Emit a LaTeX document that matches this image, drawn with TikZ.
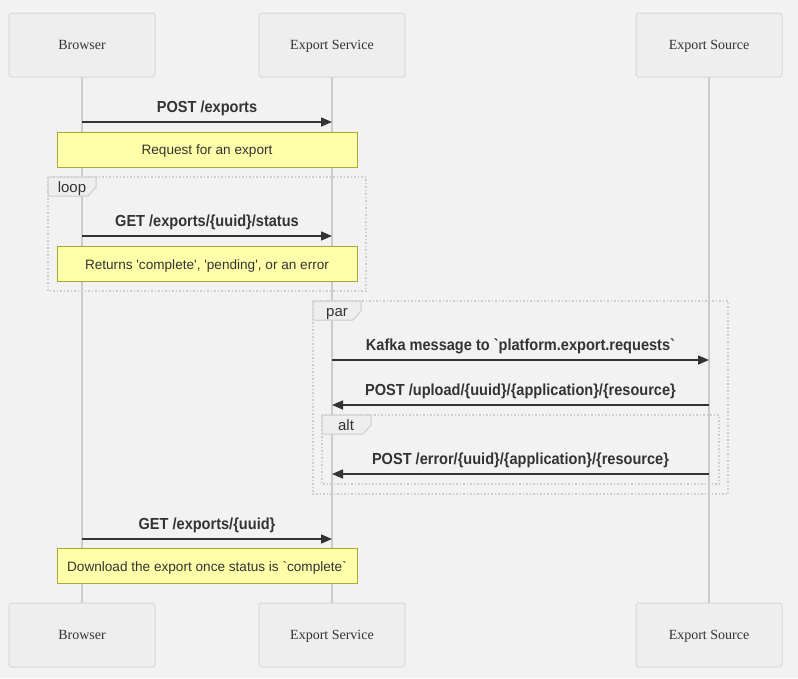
\documentclass[tikz,border=0pt]{standalone}
\usepackage{fontspec}
\setmainfont{Liberation Serif}
\newfontfamily\msgfont[FakeStretch=0.91]{Liberation Sans}
\newfontfamily\notefont{Liberation Sans}
\usetikzlibrary{arrows.meta}
\definecolor{bgc}{HTML}{F2F2F2}
\definecolor{actfill}{HTML}{EEEEEE}
\definecolor{actline}{HTML}{D8D8D8}
\definecolor{lifec}{HTML}{CCCCCC}
\definecolor{txt}{HTML}{333333}
\definecolor{notefill}{HTML}{FFFFAA}
\definecolor{noteline}{HTML}{AAAA33}
\definecolor{boxline}{HTML}{CCCCCC}
\tikzset{
  actor/.style={draw=actline, fill=actfill, rounded corners=3pt, line width=1pt, minimum width=146pt, minimum height=64pt, inner sep=0pt, text height=9.6pt, text depth=0pt, font=\fontsize{14}{16}\selectfont, text=txt},
  life/.style={draw=lifec, line width=1.5pt},
  msg/.style={draw=txt, line width=1.5pt, -{Triangle[length=11pt,width=9pt]}},
  msglabel/.style={font=\msgfont\bfseries\fontsize{16}{18}\selectfont, text=txt, inner sep=0pt, anchor=base},
  notebox/.style={draw=noteline, fill=notefill, line width=1pt, minimum width=300pt, minimum height=35pt, inner sep=0pt, text height=10pt, text depth=0pt, font=\notefont\fontsize{13.6}{16}\selectfont, text=txt},
  frame/.style={draw=boxline, line width=1.5pt, dotted},
  tab/.style={draw=boxline, fill=actfill, line width=1pt},
  tablabel/.style={font=\notefont\fontsize{15}{17}\selectfont, text=txt, inner sep=0pt, text height=10.5pt, text depth=0pt}
}
\begin{document}
\begin{tikzpicture}[x=1pt,y=-1pt]
\fill[bgc] (0,0) rectangle (798,678);
\useasboundingbox (0,0) rectangle (798,678);
% lifelines
\coordinate (bT) at (82,77); \coordinate (bB) at (82,603);
\coordinate (sT) at (332,77); \coordinate (sB) at (332,603);
\coordinate (xT) at (709,77); \coordinate (xB) at (709,603);
\draw[life] (bT) -- (bB);
\draw[life] (sT) -- (sB);
\draw[life] (xT) -- (xB);
% actors
\node[actor] (b1) at (82,45) {Browser};
\node[actor] (s1) at (332,45) {Export Service};
\node[actor] (x1) at (709,45) {Export Source};
\node[actor] (b2) at (82,635) {Browser};
\node[actor] (s2) at (332,635) {Export Service};
\node[actor] (x2) at (709,635) {Export Source};
% frames
\draw[frame] (48,177) rectangle (366,291);
\draw[tab] (48,177) -- (96,177) -- (96,187) -- (88,196) -- (48,196) -- cycle;
\node[tablabel] (loopl) at (72,187) {loop};
\draw[frame] (313,301) rectangle (728,494);
\draw[tab] (313,301) -- (361,301) -- (361,311) -- (353,320) -- (313,320) -- cycle;
\node[tablabel] (parl) at (337,311) {par};
\draw[frame] (322,415) rectangle (719,484);
\draw[tab] (322,415) -- (371,415) -- (371,425) -- (363,434) -- (322,434) -- cycle;
\node[tablabel] (altl) at (346,425) {alt};
% messages
\coordinate (m1a) at (82,122); \coordinate (m1b) at (332,122);
\draw[msg] (m1a) -- (m1b);
\node[msglabel] (l1) at (207,112.5) {POST /exports};
\node[notebox] (n1) at (207,149.5) {Request for an export};
\coordinate (m2a) at (82,236); \coordinate (m2b) at (332,236);
\draw[msg] (m2a) -- (m2b);
\node[msglabel] (l2) at (207,226.5) {GET /exports/\{uuid\}/status};
\node[notebox] (n2) at (207,264) {Returns 'complete', 'pending', or an error};
\coordinate (m3a) at (332,360); \coordinate (m3b) at (709,360);
\draw[msg] (m3a) -- (m3b);
\node[msglabel] (l3) at (520.5,350.5) {Kafka message to `platform.export.requests`};
\coordinate (m4a) at (709,405); \coordinate (m4b) at (332,405);
\draw[msg] (m4a) -- (m4b);
\node[msglabel] (l4) at (520.5,395.5) {POST /upload/\{uuid\}/\{application\}/\{resource\}};
\coordinate (m5a) at (709,474); \coordinate (m5b) at (332,474);
\draw[msg] (m5a) -- (m5b);
\node[msglabel] (l5) at (520.5,464.5) {POST /error/\{uuid\}/\{application\}/\{resource\}};
\coordinate (m6a) at (82,539); \coordinate (m6b) at (332,539);
\draw[msg] (m6a) -- (m6b);
\node[msglabel] (l6) at (207,529.5) {GET /exports/\{uuid\}};
\node[notebox] (n3) at (207,566) {Download the export once status is `complete`};
\end{tikzpicture}
\end{document}
